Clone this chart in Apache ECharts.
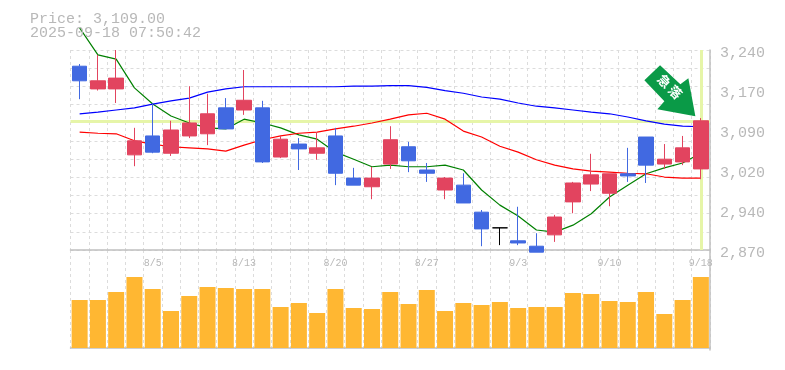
<!DOCTYPE html>
<html><head><meta charset="utf-8">
<style>html,body{margin:0;padding:0;background:#fff}#c{width:785px;height:370px}</style>
<script src="https://cdn.jsdelivr.net/npm/echarts@6/dist/echarts.min.js"></script></head>
<body><div id="c"></div>
<script>
const categories = ['7/31','8/1','8/4','8/5','8/6','8/7','8/8','8/12','8/13','8/14','8/15','8/18','8/19','8/20','8/21','8/22','8/25','8/26','8/27','8/28','8/29','9/1','9/2','9/3','9/4','9/5','9/8','9/9','9/10','9/11','9/12','9/16','9/17','9/18'];
const dates = ['7/30'].concat(categories);
const opens  = [3210,3168,3168,3046,3081,3049,3081,3085,3133,3129,3133,3042,3066,3049,3081,3003,2987,3029,3061,3018,2981,2990,2940,2911,2887,2877,2898,2959,2992,2975,3011,3079,3029,3033,3020];
const closes = [3183,3183,3188,3072,3051,3092,3105,3122,3094,3147,3033,3075,3057,3059,3012,2990,3003,3074,3035,3012,3003,2957,2909,2911,2883,2866,2931,2994,3009,3011,3007,3027,3038,3059,3109];
const lows   = [3149,3165,3142,3025,3049,3044,3077,3064,3094,3120,3031,3040,3018,3037,2990,2990,2964,3020,3014,2996,2964,2957,2877,2879,2879,2866,2885,2938,2979,2951,2996,2994,3020,3027,3001];
const highs  = [3214,3231,3240,3096,3141,3109,3173,3159,3151,3203,3146,3081,3077,3088,3096,3022,3024,3099,3070,3031,3005,3012,2944,2911,2950,2901,2935,2996,3048,3011,3059,3079,3066,3081,3114];
const maShort = [3281,3231,3223,3170,3140,3118,3105,3096,3094,3112,3105,3096,3083,3075,3051,3038,3024,3027,3024,3024,3027,3018,2981,2953,2933,2907,2903,2916,2937,2968,2990,3011,3022,3031,3049];
const maMid   = [3088,3086,3085,3072,3066,3061,3059,3057,3053,3064,3074,3081,3086,3088,3094,3099,3105,3112,3120,3123,3112,3090,3079,3062,3051,3037,3027,3020,3016,3014,3012,3011,3005,3003,3003];
const maLong  = [3122,3125,3129,3133,3140,3146,3151,3162,3168,3172,3172,3172,3172,3172,3172,3173,3173,3174,3174,3171,3165,3160,3153,3149,3142,3136,3133,3129,3125,3122,3116,3109,3103,3099,3098];
const volumes = [48,48,56,71,59,37,52,61,60,59,59,41,45,35,59,40,39,56,44,58,37,45,43,46,40,41,41,55,54,47,46,56,34,48,71];
const yTickLabels = ['2,870','2,940','3,020','3,090','3,170','3,240'];
const priceLabel = 'Price: 3,109.00';
const timeLabel = '2025-09-18 07:50:42';
const lastPrice = 3109;

const MONO = '"Liberation Mono", monospace';
const GREY = '#b8b8b8';
const candleData = opens.map((o,i)=>{
  const v=[o,closes[i],lows[i],highs[i]];
  return o===closes[i] ? {value:v,itemStyle:{color:'#000',color0:'#000',borderColor:'#000',borderColor0:'#000'}} : v;
});
const chart = echarts.init(document.getElementById('c'),null,{renderer:'canvas'});
const dash = {color:'#dcdcdc',type:[3,3],width:1};
const left=70.5,width=639.5;
chart.setOption({
  animation:false,
  backgroundColor:'#fff',
  title:[
    {text:priceLabel,left:25,top:7,textStyle:{fontFamily:MONO,fontSize:15,fontWeight:'normal',color:GREY}},
    {text:timeLabel,left:25,top:21,textStyle:{fontFamily:MONO,fontSize:15,fontWeight:'normal',color:GREY}}
  ],
  grid:[
    {left,width,top:50,height:200},
    {left,width,top:250,height:100}
  ],
  xAxis:[
    {type:'category',gridIndex:0,data:dates,position:'bottom',
     axisLine:{show:true,lineStyle:{color:'#c0c0c0',width:1.5}},axisTick:{show:false},
     splitLine:{show:true,interval:0,lineStyle:dash},
     axisLabel:{show:true,interval:(i)=>(34-i)%5===0,margin:8,fontFamily:MONO,fontSize:10,color:GREY,hideOverlap:false,showMaxLabel:true}},
    {type:'category',gridIndex:1,data:dates,
     axisLine:{show:true,lineStyle:{color:'#c0c0c0',width:1.5}},axisTick:{show:false},axisLabel:{show:false},
     splitLine:{show:true,interval:0,lineStyle:dash}}
  ],
  yAxis:[
    {type:'value',gridIndex:0,min:2870,max:3240,interval:74,position:'right',
     axisLine:{show:true,lineStyle:{color:'#c0c0c0',width:1.5}},axisTick:{show:false},splitLine:{show:false},
     axisLabel:{margin:10,fontFamily:MONO,fontSize:15,color:GREY,verticalAlign:'top',lineHeight:6,showMinLabel:true,showMaxLabel:true,
       formatter:(v)=>yTickLabels[Math.round((v-2870)/74)]}},
    {type:'value',gridIndex:0,min:0,max:11,interval:1,position:'left',
     axisLine:{show:false},axisTick:{show:false},axisLabel:{show:false},
     splitLine:{show:true,lineStyle:dash}},
    {type:'value',gridIndex:1,min:-2,max:98,position:'right',
     axisLine:{show:true,lineStyle:{color:'#c0c0c0',width:1.5}},axisTick:{show:false},axisLabel:{show:false},splitLine:{show:false}}
  ],
  series:[
    {type:'line',name:'guide',xAxisIndex:0,yAxisIndex:0,data:[],z:1,silent:true,
     markLine:{silent:true,symbol:'none',label:{show:false},animation:false,z:1,
       lineStyle:{color:'#e6f5a8',width:3,type:'solid'},
       data:[{yAxis:lastPrice},{xAxis:dates.length-1}]}},
    {type:'line',name:'short',data:maShort,xAxisIndex:0,yAxisIndex:0,symbol:'none',clip:false,z:2,lineStyle:{color:'#008000',width:1.2}},
    {type:'line',name:'mid',data:maMid,xAxisIndex:0,yAxisIndex:0,symbol:'none',clip:false,z:2,lineStyle:{color:'#ff0000',width:1.2}},
    {type:'line',name:'long',data:maLong,xAxisIndex:0,yAxisIndex:0,symbol:'none',clip:false,z:2,lineStyle:{color:'#0000ff',width:1.2}},
    {type:'candlestick',name:'price',data:candleData,xAxisIndex:0,yAxisIndex:0,barWidth:15,clip:false,z:3,
     itemStyle:{color:'#e2445f',color0:'#4169e1',borderColor:'#e2445f',borderColor0:'#4169e1',borderWidth:1},
     markPoint:{silent:true,animation:false,z:5,
       data:[{coord:[dates.length-1,lastPrice],
         symbol:'path://M15.7 0 L0 15 L20 36 L13 44 L51 51 L44 13 L36 19 Z',
         symbolSize:[51,51],symbolOffset:[-31,-30],symbolKeepAspect:false,
         itemStyle:{color:'#0a9a47'},
         label:{show:true,formatter:'急\u2009落',position:'inside',rotate:-45,color:'#fff',fontSize:13,fontWeight:'bold',fontFamily:'"Noto Sans CJK JP"',offset:[-3,-3]}}]}},
    {type:'bar',name:'volume',data:volumes,xAxisIndex:1,yAxisIndex:2,barWidth:16,z:3,itemStyle:{color:'#ffb732'}}
  ]
});
</script></body></html>
